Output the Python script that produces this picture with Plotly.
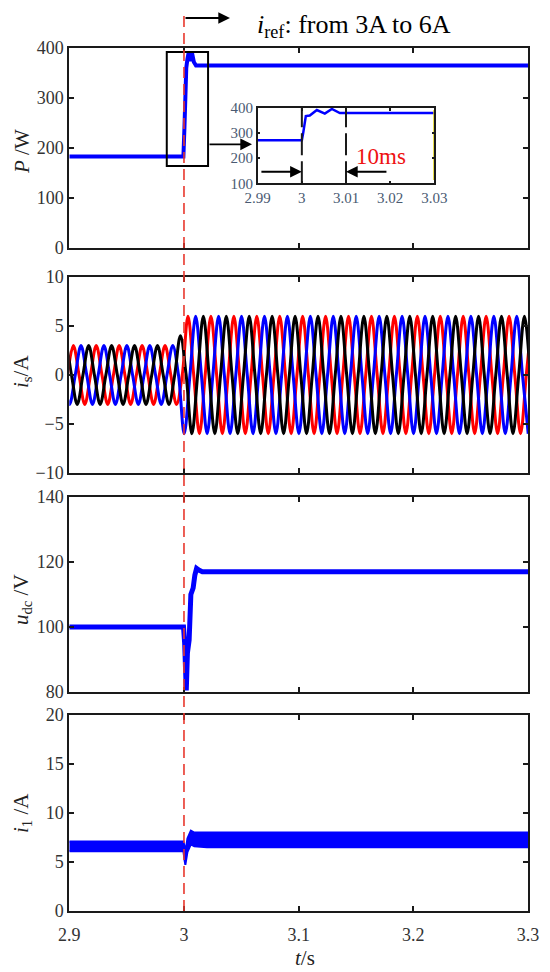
import plotly.graph_objects as go

# page body has an 8px margin, so the figure is drawn 8px smaller
OFF = 8
W, H = 550 - OFF, 972 - OFF
SERIF = 'Liberation Serif'

# shared time axis
x_ticks = [2.9, 3.0, 3.1, 3.2, 3.3]
x_tick_labels = ['2.9', '3', '3.1', '3.2', '3.3']

# active power P (W)
t_p = [2.9, 2.9995, 3.0004, 3.0012, 3.002, 3.003, 3.004, 3.0055, 3.007, 3.0086, 3.0105, 3.3]
p_w = [183, 183, 240, 320, 360, 378, 390, 374, 390, 372, 365, 365]

# zoomed view of P
t_zoom = [2.99, 3.0, 3.0003, 3.0009, 3.0018, 3.0034, 3.0052, 3.0068, 3.0086, 3.03]
p_zoom = [272, 272, 300, 368, 370, 392, 378, 396, 380, 380]
zoom_ticks = [2.99, 3.0, 3.01, 3.02, 3.03]
zoom_tick_labels = ['2.99', '3', '3.01', '3.02', '3.03']
t_yel = [3.03, 3.03]
p_yel = [392, 113]

# grid currents i_s (A), sampled at quarter periods of 50 Hz
is_red = [0, 3, 0, -3, 0, 3, 0, -3, 0, 3, 0, -3, 0, 3, 0, -3, 0, 3, 0, -3, 0,
          6, 0, -6, 0, 6, 0, -6, 0, 6, 0, -6, 0, 6, 0, -6, 0, 6, 0, -6, 0,
          6, 0, -6, 0, 6, 0, -6, 0, 6, 0, -6, 0, 6, 0, -6, 0, 6, 0, -6, 0,
          6, 0, -6, 0, 6, 0, -6, 0, 6, 0, -6, 0, 6, 0, -6, 0, 6, 0, -6, 0, 6]
is_blue = [0, -3, 0, 3, 0, -3, 0, 3, 0, -3, 0, 3, 0, -3, 0, 3, 0, -3, 0, 3, 0,
           -6, 0, 6, 0, -6, 0, 6, 0, -6, 0, 6, 0, -6, 0, 6, 0, -6, 0, 6, 0,
           -6, 0, 6, 0, -6, 0, 6, 0, -6, 0, 6, 0, -6, 0, 6, 0, -6, 0, 6, 0,
           -6, 0, 6, 0, -6, 0, 6, 0, -6, 0, 6, 0, -6, 0, 6, 0, -6, 0, 6, 0, -6]
is_black = [0, 3, 0, -3, 0, 3, 0, -3, 0, 3, 0, -3, 0, 3, 0, -3, 0, 3, 0, -3, 0, 4,
            0, -6, 0, 6, 0, -6, 0, 6, 0, -6, 0, 6, 0, -6, 0, 6, 0, -6, 0, 6,
            0, -6, 0, 6, 0, -6, 0, 6, 0, -6, 0, 6, 0, -6, 0, 6, 0, -6, 0, 6,
            0, -6, 0, 6, 0, -6, 0, 6, 0, -6, 0, 6, 0, -6, 0, 6, 0, -6, 0, 6, 0]
t_red = [2.8985 + 0.005 * k for k in range(len(is_red))]
t_blue = [2.8952 + 0.005 * k for k in range(len(is_blue))]
t_black = [2.8919 + 0.005 * k for k in range(len(is_black))]

# dc-link voltage u_dc (V)
t_udc = [2.9, 2.9996, 3.0006, 3.0014, 3.002, 3.003, 3.0045, 3.006, 3.008, 3.0095, 3.011, 3.013, 3.016, 3.3]
u_dc = [100, 100, 95, 87, 80.5, 92, 96, 110, 112, 116, 118, 117.5, 117, 117]

# inductor current i_1 (A), ripple band
t_i1 = [2.9, 2.9995, 3.0005, 3.0012, 3.003, 3.006, 3.009, 3.02, 3.3]
i1_hi = [7.1, 7.1, 6.6, 5.9, 7.4, 8.2, 8.0, 8.0, 8.0]
i1_lo = [6.1, 6.1, 5.2, 4.7, 6.0, 6.8, 6.6, 6.5, 6.5]


def px_x(v):
    return (v - OFF) / W


def px_y(v):
    return 1 - (v - OFF) / H


x_dom = [px_x(69.3), px_x(528)]
panels = [(48, 248), (277, 473), (497, 692), (715, 911)]
y_ranges = [[0, 400], [-10, 10], [80, 140], [0, 20]]
y_ticks = [[0, 100, 200, 300, 400], [-10, -5, 0, 5, 10], [80, 100, 120, 140], [0, 5, 10, 15, 20]]

axis_style = dict(
    showline=True, linecolor='#1a1a1a', linewidth=2, mirror='ticks',
    ticks='inside', ticklen=5, tickwidth=1.5, tickcolor='#1a1a1a',
    showgrid=False, zeroline=False, automargin=False,
    tickfont=dict(family=SERIF, size=18, color='#333333'),
)

fig = go.Figure()

fig.add_trace(go.Scatter(x=t_p, y=p_w, mode='lines', line=dict(color='#0000ff', width=4),
                         xaxis='x', yaxis='y'))
fig.add_trace(go.Scatter(x=t_zoom, y=p_zoom, mode='lines', line=dict(color='#0000ff', width=2.5),
                         xaxis='x5', yaxis='y5'))
fig.add_trace(go.Scatter(x=t_yel, y=p_yel, mode='lines', line=dict(color='#e0d000', width=2),
                         xaxis='x5', yaxis='y5'))

for tt, vv, col in [(t_red, is_red, '#ff0000'), (t_blue, is_blue, '#0000ff'), (t_black, is_black, '#000000')]:
    fig.add_trace(go.Scatter(x=tt, y=vv, mode='lines', line=dict(color=col, width=3, shape='spline'),
                             xaxis='x2', yaxis='y2'))

fig.add_trace(go.Scatter(x=t_udc, y=u_dc, mode='lines', line=dict(color='#0000ff', width=5),
                         xaxis='x3', yaxis='y3'))

fig.add_trace(go.Scatter(x=t_i1, y=i1_lo, mode='lines', line=dict(color='#0000ff', width=2),
                         xaxis='x4', yaxis='y4'))
fig.add_trace(go.Scatter(x=t_i1, y=i1_hi, mode='lines', line=dict(color='#0000ff', width=2),
                         fill='tonexty', fillcolor='#0000ff', xaxis='x4', yaxis='y4'))

layout = dict(
    width=W, height=H, margin=dict(l=0, r=0, t=0, b=0, autoexpand=False),
    paper_bgcolor='white', plot_bgcolor='rgba(0,0,0,0)', showlegend=False,
)
for i, ((top, bot), yr, yt) in enumerate(zip(panels, y_ranges, y_ticks), start=1):
    sx = '' if i == 1 else str(i)
    layout['xaxis' + sx] = dict(
        axis_style, domain=x_dom, range=[2.9, 3.3], anchor='y' + sx,
        tickvals=x_ticks, ticktext=x_tick_labels, showticklabels=(i == 4),
        ticklabelstandoff=6,
    )
    layout['yaxis' + sx] = dict(
        axis_style, domain=[px_y(bot), px_y(top)], range=yr, anchor='x' + sx,
        tickvals=yt,
    )

zoom_font = dict(family=SERIF, size=15, color='#4a5a72')
layout['xaxis5'] = dict(
    axis_style, domain=[px_x(257.7), px_x(434.3)], range=[2.99, 3.03], anchor='y5',
    tickvals=zoom_ticks, ticktext=zoom_tick_labels, tickfont=zoom_font,
    linewidth=1.5, ticklen=3,
)
layout['yaxis5'] = dict(
    axis_style, domain=[px_y(183.3), px_y(108)], range=[100, 400], anchor='x5',
    tickvals=[100, 200, 300, 400], tickfont=zoom_font, linewidth=1.5, ticklen=3,
)
fig.update_layout(**layout)

# zoom window on the P panel
fig.add_shape(type='rect', xref='x', yref='y', x0=2.985, x1=3.021, y0=164, y1=392,
              line=dict(color='black', width=2))
# step instant
fig.add_shape(type='line', xref='x4', yref='paper', x0=3.0, x1=3.0, y0=px_y(911), y1=px_y(12),
              line=dict(color='#e8372c', width=1.6, dash='11px,6px'))
# 10 ms markers in zoom
for xv in [3.0, 3.01]:
    fig.add_shape(type='line', xref='x5', yref='y5', x0=xv, x1=xv, y0=100, y1=400,
                  line=dict(color='#1a1a1a', width=2, dash='22px,6px'))

arrow = dict(showarrow=True, arrowhead=2, arrowsize=1.3, arrowwidth=1.8, arrowcolor='black', text='')
fig.add_annotation(arrow, xref='x5', yref='y5', axref='x5', ayref='y5',
                   x=3.0, y=146, ax=2.9905, ay=146)
fig.add_annotation(arrow, xref='x5', yref='y5', axref='x5', ayref='y5',
                   x=3.01, y=146, ax=3.0195, ay=146)
fig.add_annotation(arrow, xref='paper', yref='paper', x=px_x(252), y=px_y(144.3), ax=-44, ay=0)
fig.add_annotation(arrow, xref='paper', yref='paper', x=px_x(230), y=px_y(18), ax=-46, ay=0)

fig.add_annotation(text='10ms', xref='x5', yref='y5', x=3.018, y=205, showarrow=False,
                   xanchor='center', yanchor='middle',
                   font=dict(family=SERIF, size=23, color='#ee1111'))
fig.add_annotation(text='<i>i</i><sub>ref</sub>: from 3A to 6A', xref='paper', yref='paper',
                   x=px_x(255), y=1, xanchor='left', yanchor='top', showarrow=False,
                   font=dict(family=SERIF, size=26, color='black'))

label_font = dict(family=SERIF, size=21, color='#222222')
for txt, xp, yp in [('<i>P</i> /W', 22, 152), ('<i>i</i><sub>s</sub>/A', 22, 372),
                    ('<i>u</i><sub>dc</sub> /V', 22, 600), ('<i>i</i><sub>1</sub> /A', 22, 813)]:
    fig.add_annotation(text=txt, xref='paper', yref='paper', x=px_x(xp), y=px_y(yp),
                       xanchor='center', yanchor='middle',
                       textangle=-90, showarrow=False, font=label_font)
fig.add_annotation(text='<i>t</i>/s', xref='paper', yref='paper', x=px_x(305), y=px_y(958),
                   xanchor='center', yanchor='middle', showarrow=False, font=label_font)

fig.write_html('out.html')
